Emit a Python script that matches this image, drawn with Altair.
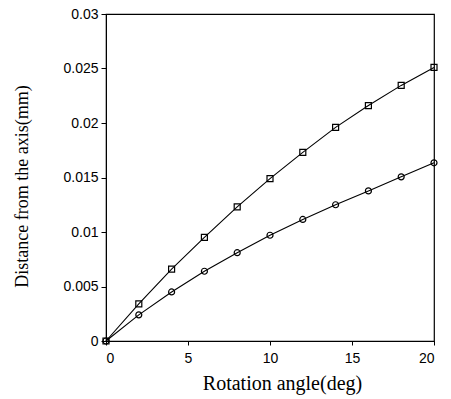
import altair as alt
import pandas as pd

angle = [0, 2, 4, 6, 8, 10, 12, 14, 16, 18, 20]
upper = [0.0, 0.0034, 0.0066, 0.0095, 0.0123, 0.0149, 0.0173, 0.0196, 0.0216, 0.02345, 0.0251]
lower = [0.0, 0.0024, 0.0045, 0.0064, 0.0081, 0.0097, 0.01115, 0.0125, 0.01377, 0.01506, 0.01635]

df = pd.DataFrame({
    "angle": angle * 2,
    "dist": upper + lower,
    "series": ["upper"] * len(angle) + ["lower"] * len(angle),
})

x = alt.X("angle:Q", scale=alt.Scale(domain=[0, 20], nice=False),
          axis=alt.Axis(values=[0, 5, 10, 15, 20], format="~g", title="Rotation angle(deg)",
                        titleFont="Liberation Serif", titleFontSize=20, titleFontWeight="normal",
                        titleX=176, titleY=42, titleBaseline="middle", titleAlign="center",
                        labelFont="Liberation Sans", labelFontSize=14,
                        labelPadding=6, tickSize=4, grid=False, domainColor="black",
                        tickColor="black", labelColor="black", titleColor="black"))
y = alt.Y("dist:Q", scale=alt.Scale(domain=[0, 0.03], nice=False),
          axis=alt.Axis(values=[0, 0.005, 0.01, 0.015, 0.02, 0.025, 0.03], format="~g",
                        title="Distance from the axis(mm)",
                        titleFont="Liberation Serif", titleFontSize=18, titleFontWeight="normal",
                        titleX=-84, titleY=172, titleAngle=-90, titleBaseline="middle",
                        titleAlign="center",
                        labelFont="Liberation Sans", labelFontSize=14,
                        labelPadding=3, tickSize=5, grid=False, domainColor="black",
                        tickColor="black", labelColor="black", titleColor="black"))

lines = alt.Chart(df).mark_line(color="black", strokeWidth=1.1).encode(x=x, y=y, detail="series:N")
pts = alt.Chart(df).mark_point(filled=False, color="black", size=36, strokeWidth=1.2, opacity=1).encode(
    x=x, y=y,
    shape=alt.Shape("series:N", scale=alt.Scale(domain=["upper", "lower"], range=["square", "circle"]), legend=None),
)

chart = (lines + pts).properties(
    width=328, height=327,
    autosize=alt.AutoSizeParams(type="none"),
    padding={"left": 106, "top": 14, "right": 17, "bottom": 58},
    background="white",
).configure_view(stroke="black", strokeWidth=1.2)

chart.save("out.html", embed_options={"renderer": "svg", "actions": False})
